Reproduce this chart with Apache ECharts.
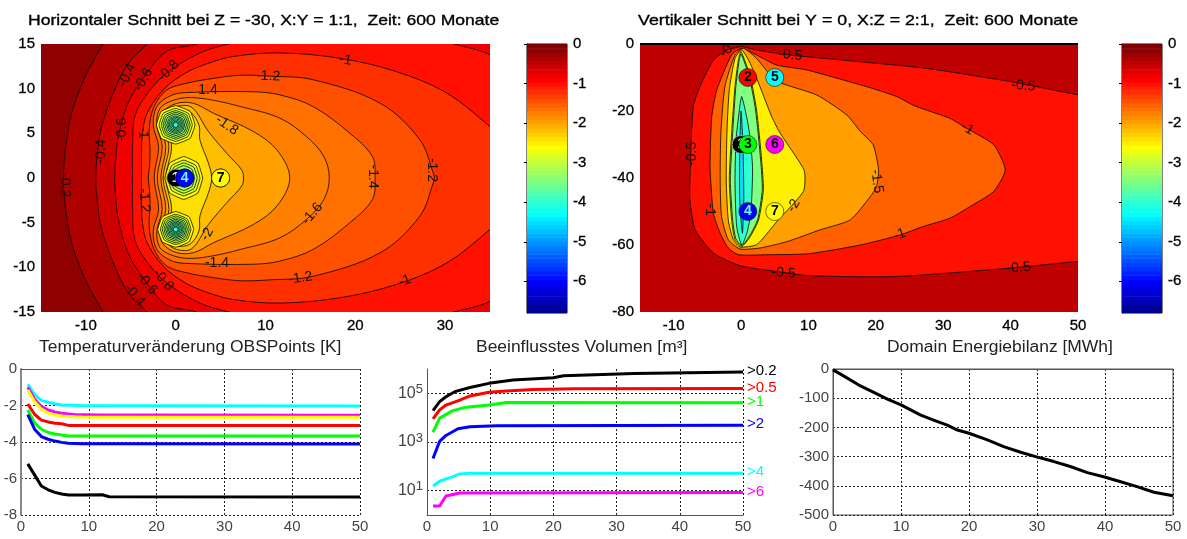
<!DOCTYPE html>
<html><head><meta charset="utf-8">
<script src="https://cdn.jsdelivr.net/npm/echarts@6/dist/echarts.min.js"></script>
<style>html,body{margin:0;padding:0;background:#fff}#c{width:1187px;height:539px}</style></head>
<body><div id="c"></div>
<script>
// ---------- horizontal section contours (upper half, x, y), mirrored about y = 0
const hContourLevels = [-0.2,-0.4,-0.6,-0.8,-1,-1.2,-1.4,-1.6,-1.8,-2,-2.2];
const hC02 = [[-12.5,0],[-12.3,3.1],[-11.6,7.2],[-10.1,11.3],[-8.1,15],[-7,17],[42,17],[42,0]];
const hC04 = [[-8.9,0],[-8.8,2],[-8.25,5.75],[-6.8,9.85],[-5.3,12.8],[-3.2,15],[-1.5,17],[42,17],[42,0]];
const hC06 = [[-6.8,0],[-6.65,2.5],[-6.4,4.6],[-5.3,8.4],[-3.6,11.2],[-1,14.2],[2.3,15],[6,17],[42,17],[42,0]];
const hC08 = [[-4.8,0],[-4.8,3.5],[-4.5,7.05],[-2.85,9.85],[-0.8,11.9],[2.7,14],[5.9,15],[12,16.5],[26,16.5],[31,15],[35,13.8],[39,11],[42,0]];
const hC10 = [[-3.8,0],[-3.8,3.1],[-3.7,5],[-3.2,7.2],[-1.4,9.85],[1,11.7],[3.5,12.8],[6.4,13.6],[11.6,14],[18.3,13.4],[24.6,11.9],[30.2,9.5],[35,5.75],[38,3],[39,0]];
const hC12 = [[-3.05,0],[-2.9,1.5],[-2.85,3.1],[-2.95,5.5],[-2.4,8],[-1,9.85],[1.2,10.6],[4.2,11.15],[7.2,11.5],[10.5,11.4],[15.3,11],[22.8,8.35],[27.2,4.25],[28.7,0.5],[28.8,0]];
const hC14 = [[-2.4,0],[-1.9,3.5],[-2.5,5.9],[-2.1,8],[-0.6,9.2],[1,9.55],[8.7,9.65],[11.6,9.3],[15.3,8],[19.4,5],[21.9,2.4],[22.2,0]];
const hC16 = [[-2.05,0],[-1.5,3.5],[-2.1,5.9],[-1.75,7.8],[-0.25,8.7],[1.6,9],[4.2,8.7],[7.2,8],[11.6,6.7],[14.6,4.6],[16.5,2.4],[17.1,0]];
const hC18 = [[-1.65,0],[-1.1,3.5],[-1.75,5.9],[-1.4,7.4],[0.1,8.35],[2,8.35],[4.2,7.25],[8.65,5.2],[11.3,3.1],[12.7,0]];
const hC20 = [[-1.4,0],[-0.75,3.5],[-1.4,5.9],[-1,7.2],[0.1,8],[1.8,7.9],[3.65,5.2],[5.7,2.75],[7.35,0.9],[7.55,0]];
const hC22 = [[-1.1,0],[-0.45,3.5],[-1.1,5.9],[-0.8,7],[0.1,7.6],[1.6,7.4],[2.6,5.9],[2.7,4.25],[3.65,1.65],[4,0]];
// well rings of the horizontal section: level, half width, half height
const wellOutline = [[1,0],[0.75,0.7],[0,1],[-0.75,0.7],[-1,0],[-0.75,-0.7],[0,-1],[0.75,-0.7]];
const topWellCentre = [0,5.95];
const bottomWellCentre = [0,-5.75];
const middleWellCentre = [0.9,0];
const topWellRings = [[-2.4,2.15,2.15],[-2.6,1.85,1.85],[-2.8,1.6,1.6],[-3,1.4,1.4],[-3.2,1.2,1.2],[-3.3,1,1],[-3.4,0.85,0.85],[-3.5,0.7,0.7],[-3.6,0.55,0.55],[-3.7,0.4,0.4],[-3.8,0.28,0.28]];
const bottomWellRings = [[-2.4,2,2],[-2.6,1.7,1.7],[-2.8,1.5,1.5],[-3,1.3,1.3],[-3.2,1.12,1.12],[-3.3,0.95,0.95],[-3.4,0.8,0.8],[-3.5,0.66,0.66],[-3.6,0.52,0.52],[-3.7,0.38,0.38],[-3.8,0.26,0.26]];
const middleWellRings = [[-2.4,2.1,2.4],[-2.6,1.8,2],[-2.8,1.5,1.7],[-3,1.2,1.4]];
const hLabels = [[-12.3,-0.8,'-0.2',-90],[-8.3,2.95,'-0.4',90],[-6,5.4,'-0.6',90],[-3.7,5.1,'-1',-90],[-3.5,-2.5,'-1.2',-85],[-5.4,11.5,'-0.4',65],[-3.6,11,'-0.6',60],[-0.8,12,'-0.8',45],[3.6,9.8,'1.4',0],[10.3,11.4,'-1.2',-3],[5.7,5.9,'-1.8',-35],[3.5,-6.3,'-2',60],[4.6,-9.5,'-1.4',0],[-3.2,-11.8,'-0.6',-50],[-1.4,-11.4,'-0.8',-50],[-4.6,-13.1,'-0.4',-50],[13.9,-11.2,'-1.2',8],[18.9,13.2,'-1',-10],[22,0.15,'-1.4',-90],[28.5,0.9,'-1.2',-90],[15.2,-4,'-1.6',50],[25.5,-11.5,'-1',20]];
// ---------- vertical section contours (closed, x, z)
const vContourLevels = [-0.5,-1,-1.5,-2,-2.5,-3,-3.5,-4];
const vC05 = [[50.1,-15.2],[39.9,-11.2],[27.6,-7.3],[17.7,-5.3],[7.3,-3.3],[2.3,-1.8],[0.1,-0.8],[-2.1,-1.8],[-4.1,-4.8],[-6.1,-12.7],[-7.1,-18.7],[-7.5,-34.6],[-7.6,-46.5],[-6.8,-55.5],[-4.1,-62.4],[-0.15,-66.2],[5.3,-67.9],[10.25,-69.2],[23.1,-69.4],[39.9,-66.9],[50,-64.9],[56,-64],[60,-40],[56,-17]];
const vC10 = [[39.2,-37.6],[37.5,-30.1],[33.5,-25.2],[31,-22.2],[25.8,-18.5],[23.1,-15.7],[20.2,-13.7],[17.7,-12.2],[9.75,-7.75],[5.3,-6.3],[2.3,-3.3],[0.1,-1.3],[-1.4,-3.3],[-3.6,-13.7],[-4.35,-21.7],[-4.6,-36.6],[-4.1,-50.5],[-3.1,-56.5],[-1.9,-60.9],[-0.4,-62.9],[3.8,-62.9],[10,-62.6],[17.7,-60],[23.6,-57],[27,-54.5],[31,-52],[34,-48.5],[37.5,-44]];
const vC15 = [[20.4,-37.6],[19.6,-30.1],[17.7,-26.1],[15.7,-21.2],[11.2,-15.2],[6,-11.7],[4.3,-9.2],[2.3,-4.3],[0.35,-1.3],[-0.9,-3.3],[-2.4,-12.7],[-3,-26.6],[-3.1,-40.6],[-2.9,-51.5],[-1.9,-58.4],[-0.15,-61.2],[2.8,-60.9],[6.8,-59],[11.7,-55.5],[16.2,-52.5],[19.2,-45.5],[20.1,-42.5]];
const vC20 = [[9.4,-38],[7.8,-32.6],[5.8,-26.6],[4.55,-21.7],[2.8,-12.7],[1.35,-5.8],[0.1,-1.8],[-0.9,-4.3],[-1.75,-13.7],[-2.1,-26.6],[-2.2,-40.6],[-1.9,-52.5],[-1.15,-58.4],[-0.15,-60.6],[2.3,-59.9],[4.3,-55.5],[5.3,-53],[9.25,-44]];
const vC25 = [[0,-2.3],[1.35,-9.7],[2.3,-19.7],[3.05,-34.6],[3.3,-43.5],[2.6,-52.5],[1.35,-57.5],[0.1,-60.4],[-0.9,-58.4],[-1.4,-52.5],[-1.75,-40.6],[-1.4,-26.6],[-0.9,-12.7],[-0.4,-4.8]];
const vC30 = [[0,-3],[1.2,-9.7],[2.15,-19.7],[2.9,-34.6],[3.15,-43.5],[2.45,-52.5],[1.25,-57.3],[0.1,-60.2],[-0.8,-58],[-1.25,-52.5],[-1.6,-40.6],[-1.25,-26.6],[-0.78,-12.7],[-0.3,-5]];
const vC35 = [[0.1,-15.7],[1.1,-24.7],[1.7,-36.6],[1.45,-50.5],[0.85,-56.5],[0.1,-60],[-0.65,-54.5],[-0.9,-41.5],[-0.75,-28.6],[-0.25,-19.7]];
const vC40 = [[0,-20],[0.3,-31.6],[0.4,-46.5],[0.2,-56.5],[-0.2,-46.5],[-0.2,-31.6]];
const vLabels = [[7.3,-3.3,'-0.5',-6],[-1.6,-0.9,'-0.5',45],[-7.2,-32.8,'-0.5',90],[-4.6,-49.5,'-1',-90],[6.3,-68.4,'-0.5',-5],[7.8,-48.3,'-2',60],[20.15,-41,'-1.5',-82],[41.9,-12.5,'-0.5',-5],[33.6,-25.3,'-1',-30],[23.5,-56.9,'-1',20],[41.2,-66.8,'-0.5',4]];
// ---------- observation points
const obsNames = ['1','2','3','4','5','6','7'];
const obsX = [0,1,1,1,5,5,5];
const obsZ = [-30,-10,-30,-50,-10,-30,-50];
const obsHorizontalY = [0,0,0,0,0,0,0];
const obsColors = ['#000000','#ff0000','#00ff00','#0000ff','#00ffff','#ff00ff','#ffff00'];
const obsTextColors = ['#dddddd','#000000','#000000','#66ffff','#000000','#000000','#000000'];
// ---------- colorbar
const colorbarMin = -6.8;
const colorbarTicks = [0,-1,-2,-3,-4,-5,-6];
// ---------- temperature change
const tempYears = [1,2,3,4,5,6,7,8,9,12,13,50];
const tempBlack = [-5.2,-5.8,-6.41,-6.62,-6.76,-6.85,-6.9,-6.9,-6.9,-6.89,-7,-7.01];
const tempRed = [-1.92,-2.48,-2.8,-2.9,-2.97,-3,-3.09,-3.09,-3.09,-3.1,-3.1,-3.1];
const tempGreen = [-2.25,-2.95,-3.3,-3.48,-3.56,-3.62,-3.67,-3.67,-3.67,-3.67,-3.67,-3.67];
const tempBlue = [-2.5,-3.3,-3.7,-3.85,-3.95,-4.02,-4.07,-4.08,-4.09,-4.1,-4.1,-4.11];
const tempCyan = [-0.84,-1.4,-1.72,-1.82,-1.9,-1.97,-1.98,-1.99,-2,-2.02,-2.02,-2.03];
const tempMagenta = [-1,-1.65,-2.05,-2.25,-2.35,-2.42,-2.47,-2.5,-2.5,-2.52,-2.52,-2.54];
const tempYellow = [-1.15,-1.8,-2.2,-2.42,-2.52,-2.58,-2.6,-2.62,-2.63,-2.64,-2.64,-2.65];
// ---------- affected volume: [year, volume]
const volNames = ['>0.2','>0.5','>1','>2','>4','>6'];
const volColors = ['#000000','#ff0000','#00ff00','#0000ff','#00ffff','#ff00ff'];
const vol02 = [[0.95,19500],[2,45700],[3,72000],[4.4,117000],[6.8,174000],[9.8,257000],[13.6,350000],[20,437000],[21.6,525000],[32.7,660000],[50,760000]];
const vol05 = [[0.95,8900],[2,21000],[3,33000],[5.2,53000],[6.8,78000],[9.8,110000],[12.6,126000],[16.8,145000],[23.4,155000],[50,158000]];
const vol1 = [[0.95,2570],[2,9550],[4.1,19500],[6.2,27000],[9.8,33000],[12.6,42000],[50,41000]];
const vol2 = [[0.95,209],[2,1070],[3,1860],[4.9,3500],[6.8,4250],[11,4700],[50,4900]];
const vol4 = [[0.95,15.5],[2,24.5],[3.9,36],[5.2,49],[6.8,52.5],[50,52.5]];
const vol6 = [[0.95,2.35],[2,2.35],[3,6],[5.2,8],[50,8.5]];
// ---------- energy balance
const energy = [[0,-3],[1.3,-20],[3.8,-55],[6,-80],[8,-103],[10,-123],[12.9,-158],[14.8,-175],[16.8,-192],[18.3,-209],[20,-220],[22.7,-243],[25.1,-266],[27.6,-285],[29.8,-300],[32.5,-317],[34.9,-334],[37.4,-355],[39.8,-369],[42.3,-386],[44.7,-403],[47.2,-422],[50,-434]];

const FONT = '"Liberation Sans", Arial, sans-serif';
function jet64(i){
  i=Math.max(0,Math.min(63,i));
  const t=(i+1)/64;
  const r=Math.min(1,Math.max(0,Math.min(4*t-1.5,-4*t+4.5)));
  const g=Math.min(1,Math.max(0,Math.min(4*t-0.5,-4*t+3.5)));
  const b=Math.min(1,Math.max(0,Math.min(4*t+0.5,-4*t+2.5)));
  return 'rgb('+Math.round(r*255)+','+Math.round(g*255)+','+Math.round(b*255)+')';
}
const levelColor=v=>jet64(Math.floor((v-colorbarMin)/(-colorbarMin)*64));
const mirror=h=>h.concat(h.slice(1,-1).reverse().map(p=>[p[0],-p[1]]));
const ringPolygon=(c,r)=>wellOutline.map(p=>[c[0]+p[0]*r[1],c[1]+p[1]*r[2]]);

// filled contour layers: [polygon, fill level, outlined, smoothing]
const hLayers=[[[[-15,15],[35,15],[35,-15],[-15,-15]],-0.2,false,0]];
[hC02,hC04,hC06,hC08,hC10,hC12,hC14,hC16,hC18,hC20,hC22].forEach((c,i)=>hLayers.push([mirror(c),hContourLevels[i]-0.2,true,0.35]));
[[topWellRings,topWellCentre],[bottomWellRings,bottomWellCentre],[middleWellRings,middleWellCentre]].forEach(w=>w[0].forEach(r=>hLayers.push([ringPolygon(w[1],r),r[0]-0.2,true,0.1])));
const vLayers=[[[[-15,0],[50,0],[50,-80],[-15,-80]],-0.5,false,0]];
[vC05,vC10,vC15,vC20,vC25,vC30,vC35,vC40].forEach((c,i)=>vLayers.push([c,vContourLevels[i]-0.5,true,0.2]));

function contourSeries(layers,ax){
  return {type:'custom',xAxisIndex:ax,yAxisIndex:ax,clip:true,silent:true,z:2,
    data:layers.map((l,i)=>[i]),
    encode:{x:[],y:[]},
    renderItem:(p,api)=>{
      const l=layers[p.dataIndex];
      return {type:'polygon',shape:{points:l[0].map(q=>api.coord(q)),smooth:l[3]},
        style:{fill:levelColor(l[1]),stroke:l[2]?'rgba(0,0,0,0.78)':'none',lineWidth:1}};
    }};
}
function labelSeries(labels,ax){
  return {type:'custom',xAxisIndex:ax,yAxisIndex:ax,clip:true,silent:true,z:3,
    data:labels.map((l,i)=>[l[0],l[1]]),
    renderItem:(p,api)=>{
      const l=labels[p.dataIndex],c=api.coord([l[0],l[1]]);
      return {type:'text',x:c[0],y:c[1],rotation:l[3]*Math.PI/180,
        style:{text:l[2],fontSize:14,fontFamily:FONT,fill:'#111',align:'center',verticalAlign:'middle'}};
    }};
}
function obsSeries(xs,ys,ax){
  return obsNames.map((n,i)=>({type:'scatter',xAxisIndex:ax,yAxisIndex:ax,symbol:'circle',symbolSize:18,z:5+i,silent:true,
    data:[{value:[xs[i],ys[i]],name:n,
      itemStyle:{color:obsColors[i],opacity:1,borderColor:i===0?'#999':'rgba(0,0,0,0.55)',borderWidth:1},
      label:{show:true,position:'inside',formatter:n,color:obsTextColors[i],fontFamily:FONT,fontWeight:'bold',fontSize:14}}]}));
}
function colorbarSeries(ax){
  const steps=Array.from({length:64},(_,i)=>i);
  return {type:'custom',xAxisIndex:ax,yAxisIndex:ax,silent:true,clip:true,z:2,data:steps.map(s=>[s]),encode:{x:[],y:[]},
    renderItem:(p,api)=>{
      const s=p.dataIndex,h=-colorbarMin/64,lo=colorbarMin+s*h;
      const a=api.coord([0,lo+h]),b=api.coord([1,lo]);
      return {type:'rect',shape:{x:a[0],y:a[1],width:b[0]-a[0],height:b[1]-a[1]+0.5},style:{fill:jet64(s)}};
    }};
}
const topAxisLabel={color:'#000',fontFamily:FONT,fontSize:15,margin:6,textBorderColor:'#000',textBorderWidth:0.3};
const lowLabel={color:'#444',fontFamily:FONT,fontSize:15,margin:4};
const dash={show:true,lineStyle:{color:'#222',type:[2,2],width:1}};

const grids=[
 {left:41,top:44,width:449,height:268},
 {left:527,top:44,width:40,height:269,show:true,borderColor:'#000',borderWidth:1,backgroundColor:'transparent'},
 {left:640,top:44,width:438,height:268},
 {left:1122,top:44,width:40,height:269,show:true,borderColor:'#000',borderWidth:1,backgroundColor:'transparent'},
 {left:21,top:369,width:339,height:146},
 {left:427,top:369,width:316,height:146},
 {left:833,top:369,width:340,height:146,show:true,borderColor:'#555',borderWidth:1,backgroundColor:'transparent'}
];
const none={show:false};
const xAxes=[
 {gridIndex:0,type:'value',min:-15,max:35,axisLabel:Object.assign({customValues:[-10,0,10,20,30]},topAxisLabel),axisTick:none,axisLine:none,splitLine:none},
 {gridIndex:1,type:'value',min:0,max:1,show:false},
 {gridIndex:2,type:'value',min:-15,max:50,axisLabel:Object.assign({customValues:[-10,0,10,20,30,40,50]},topAxisLabel),axisTick:none,axisLine:none,splitLine:none},
 {gridIndex:3,type:'value',min:0,max:1,show:false},
 {gridIndex:4,type:'value',min:0,max:50,interval:10,axisLabel:lowLabel,axisTick:none,axisLine:{lineStyle:{color:'#555'}},splitLine:dash},
 {gridIndex:5,type:'value',min:0,max:50,interval:10,axisLabel:lowLabel,axisTick:none,axisLine:{lineStyle:{color:'#555'}},splitLine:dash},
 {gridIndex:6,type:'value',min:0,max:50,interval:10,axisLabel:lowLabel,axisTick:none,axisLine:{lineStyle:{color:'#555'}},splitLine:dash}
];
const cbY=g=>({gridIndex:g,type:'value',position:'right',min:colorbarMin,max:0,
  axisLabel:Object.assign({customValues:colorbarTicks},topAxisLabel),
  axisTick:{show:true,inside:true,length:3,customValues:colorbarTicks,lineStyle:{color:'#000'}},axisLine:{show:true,lineStyle:{color:'#000'}},splitLine:none});
const yAxes=[
 {gridIndex:0,type:'value',min:-15,max:15,interval:5,axisLabel:topAxisLabel,axisTick:none,axisLine:none,splitLine:none},
 cbY(1),
 {gridIndex:2,type:'value',min:-80,max:0,interval:20,axisLabel:topAxisLabel,axisTick:none,axisLine:none,splitLine:none},
 cbY(3),
 {gridIndex:4,type:'value',min:-8,max:0,interval:2,axisLabel:lowLabel,axisTick:none,axisLine:{show:true,lineStyle:{color:'#888',width:2}},splitLine:dash},
 {gridIndex:5,type:'log',logBase:10,min:1,max:1000000,
   axisLabel:{color:'#444',fontFamily:FONT,margin:4,customValues:[10,1000,100000],
     formatter:v=>'{b|10}{s|'+Math.round(Math.log10(v))+'}',
     rich:{b:{fontSize:16,color:'#444',fontFamily:FONT},s:{fontSize:13,color:'#444',fontFamily:FONT,verticalAlign:'top',padding:[0,0,8,0]}}},
   axisTick:{show:false,customValues:[10,1000,100000]},axisLine:{show:true,lineStyle:{color:'#555'}},splitLine:dash,minorSplitLine:none},
 {gridIndex:6,type:'value',min:-500,max:0,interval:100,axisLabel:lowLabel,axisTick:none,axisLine:{show:true,lineStyle:{color:'#555'}},splitLine:dash}
];
const zip=(a,b)=>a.map((x,i)=>[x,b[i]]);
const lowLine=(data,color,ax,extra)=>Object.assign({type:'line',xAxisIndex:ax,yAxisIndex:ax,data,showSymbol:false,symbol:'none',silent:true,z:4,
  lineStyle:{color,width:3},itemStyle:{color}},extra||{});
const series=[
 contourSeries(hLayers,0),labelSeries(hLabels,0),...obsSeries(obsX,obsHorizontalY,0),
 colorbarSeries(1),
 contourSeries(vLayers,2),labelSeries(vLabels,2),...obsSeries(obsX,obsZ,2),
 {type:'line',xAxisIndex:2,yAxisIndex:2,data:[[-15,0],[50,0]],symbol:'none',silent:true,clip:false,z:4,lineStyle:{color:'#000',width:2}},
 colorbarSeries(3),
 lowLine(zip(tempYears,tempBlack),'#000',4),lowLine(zip(tempYears,tempRed),'#ff0000',4),lowLine(zip(tempYears,tempGreen),'#00ff00',4),
 lowLine(zip(tempYears,tempBlue),'#0000ff',4),lowLine(zip(tempYears,tempCyan),'#00ffff',4),lowLine(zip(tempYears,tempMagenta),'#ff00ff',4),lowLine(zip(tempYears,tempYellow),'#ffff00',4),
 ...[vol02,vol05,vol1,vol2,vol4,vol6].map((d,i)=>lowLine(d,volColors[i],5,{name:volNames[i],
   endLabel:{show:true,formatter:volNames[i],color:volColors[i],fontFamily:FONT,fontSize:15,distance:4,offset:[0,-1]}})),
 lowLine(energy,'#000',6)
];
const topTitle=(text,x,sx)=>({type:'text',x,y:21,scaleX:sx,style:{text,fontFamily:FONT,fontSize:15,fill:'#000',stroke:'#000',lineWidth:0.35,verticalAlign:'middle'}});
const lowTitle=(text,x)=>({type:'text',x,y:348,scaleX:1.09,style:{text,fontFamily:FONT,fontSize:16,fill:'#222',verticalAlign:'middle'}});
const chart=echarts.init(document.getElementById('c'),null,{renderer:'canvas'});
chart.setOption({animation:false,backgroundColor:'#fff',
 graphic:[topTitle('Horizontaler Schnitt bei Z = -30, X:Y = 1:1,  Zeit: 600 Monate',28,1.17),
        topTitle('Vertikaler Schnitt bei Y = 0, X:Z = 2:1,  Zeit: 600 Monate',638,1.186),
        lowTitle('Temperaturveränderung OBSPoints [K]',39),lowTitle('Beeinflusstes Volumen [m³]',476),lowTitle('Domain Energiebilanz [MWh]',887)],
 grid:grids,xAxis:xAxes,yAxis:yAxes,series});
</script></body></html>
